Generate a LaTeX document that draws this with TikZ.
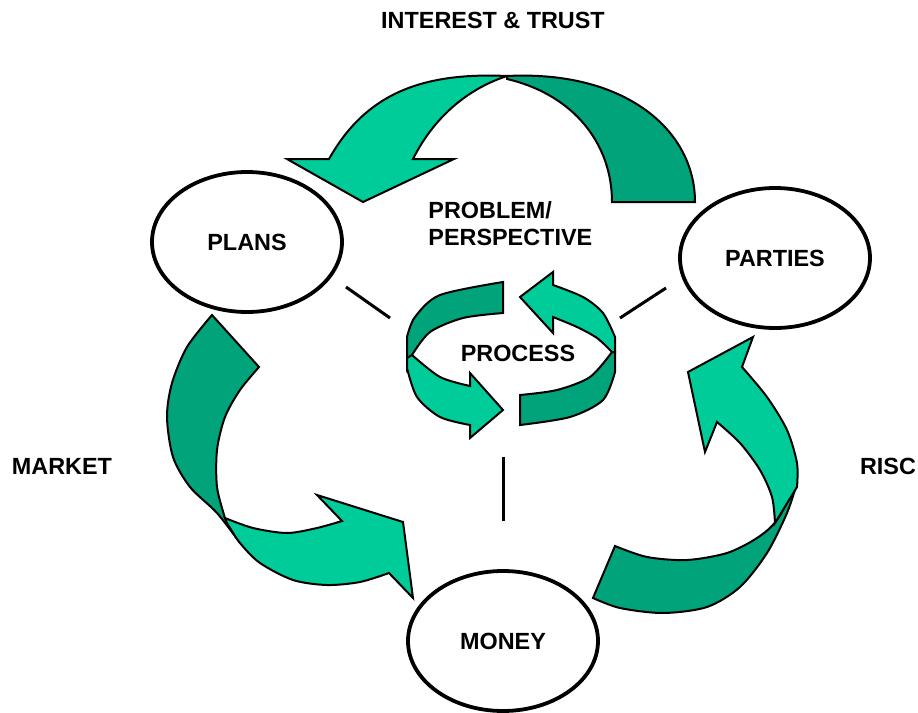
\documentclass[tikz,border=0pt]{standalone}
\usepackage{fontspec}
\setmainfont{Liberation Sans}
\usetikzlibrary{shapes.geometric}

\definecolor{ribbonLight}{RGB}{0,204,153}
\definecolor{ribbonDark}{RGB}{0,163,122}

\begin{document}
\begin{tikzpicture}[x=0.5pt,y=-0.5pt,
  every node/.style={font=\fontsize{11.7}{13}\selectfont\bfseries,inner sep=0pt},
  oval/.style={ellipse,draw,line width=1.9pt,fill=white,minimum width=95pt,minimum height=70pt},
  front/.style={fill=ribbonLight,draw,line width=1pt},
  back/.style={fill=ribbonDark,draw,line width=1pt},
  link/.style={line width=1.5pt}]

  \useasboundingbox (0,0) rectangle (918,713);

  % Top ribbon: parties -> plans
  \filldraw[back] (507,76) .. controls (625,70) and (695,130) .. (695,202)
    -- (612,202) .. controls (612,145) and (575,95) .. (507,79) -- cycle;
  \filldraw[front] (329,159) .. controls (365,95) and (420,72) .. (507,76)
    .. controls (470,88) and (435,115) .. (413,159)
    -- (454,159) -- (363,202) -- (287,159) -- cycle;

  % Left ribbon: plans -> money
  \filldraw[back] (212,315) -- (259,367)
    -- plot[smooth] coordinates {(259,367) (240,390) (225,417) (217,450) (217,487) (225,518)}
    -- (240,543)
    -- plot[smooth] coordinates {(240,543) (217,513) (190,487) (173,457) (167,417) (172,383) (187,347) (212,315)} -- cycle;
  \filldraw[front] plot[smooth] coordinates {(225,518) (253,528) (287,533) (317,528) (342,521)}
    -- (317,495) -- (403,522) -- (413,598) -- (389,573)
    -- plot[smooth] coordinates {(389,573) (360,582) (327,585) (293,580) (260,563) (240,543) (227,523)} -- cycle;

  % Right ribbon: money -> parties
  \filldraw[back] (615,546) -- (593,598)
    -- plot[smooth] coordinates {(593,598) (620,608) (663,613) (707,607) (740,587) (767,553) (787,513) (797,483)}
    -- plot[smooth] coordinates {(797,483) (777,520) (757,538) (727,553) (687,560) (647,557) (615,546)} -- cycle;
  \filldraw[front] plot[smooth] coordinates {(775,523) (772,497) (760,470) (740,443) (717,422)}
    -- (705,452) -- (688,372) -- (753,337) -- (742,367)
    -- plot[smooth] coordinates {(742,367) (767,397) (787,430) (797,463) (797,487)} -- cycle;

  % Small ring round the process
  \filldraw[back] (503,282) -- (503,313)
    -- plot[smooth] coordinates {(503,313) (463,318) (430,332) (412,355)}
    -- (407,368) -- (407,337)
    -- plot[smooth] coordinates {(407,337) (415,317) (440,295) (503,282)} -- cycle;
  \filldraw[front] plot[smooth] coordinates {(412,355) (440,377) (470,386)}
    -- (470,373) -- (503,410) -- (470,438) -- (470,425)
    -- plot[smooth] coordinates {(470,425) (440,417) (417,397) (407,368)} -- (407,358) -- cycle;
  \filldraw[back] (520,395) -- (520,425)
    -- plot[smooth] coordinates {(520,425) (570,417) (603,400) (615,372)}
    -- (615,352)
    -- plot[smooth] coordinates {(612,352) (590,377) (557,390) (520,395)} -- cycle;
  \filldraw[front] (553,285) -- (553,272) -- (520,297) -- (553,333) -- (553,317)
    -- plot[smooth] coordinates {(553,317) (577,327) (597,338) (612,352)}
    -- (615,352) -- (615,337)
    -- plot[smooth] coordinates {(615,337) (603,313) (583,297) (553,285)} -- cycle;

  % Ovals
  \node[oval] (plans) at (247,242) {PLANS};
  \node[oval] (parties) at (775,258) {PARTIES};
  \node[oval] (money) at (503,641) {MONEY};

  % Centre labels
  \node (process) at (518,353) {PROCESS};
  \node[anchor=base west] (problem) at (428,218) {PROBLEM/};
  \node[anchor=base west] (perspective) at (428,245) {PERSPECTIVE};

  % Side labels
  \node (interest) at (493,20) {INTEREST \& TRUST};
  \node (market) at (62,466) {MARKET};
  \node (risc) at (888,466) {RISC};

  % Spokes to the centre
  \coordinate (plans-in) at (390,318);
  \coordinate (plans-out) at (346,287);
  \coordinate (parties-in) at (620,318);
  \coordinate (parties-out) at (666,288);
  \coordinate (money-in) at (503,457);
  \coordinate (money-out) at (503,521);
  \draw[link] (plans-out) -- (plans-in);
  \draw[link] (parties-out) -- (parties-in);
  \draw[link] (money-out) -- (money-in);
\end{tikzpicture}
\end{document}
